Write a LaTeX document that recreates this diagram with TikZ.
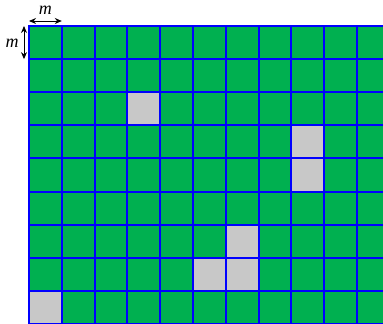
\documentclass[tikz,border=0pt]{standalone}
\usepackage{fontspec}
\setmainfont{Liberation Serif}
\usetikzlibrary{arrows.meta}
\definecolor{cellgreen}{HTML}{00B050}
\definecolor{cellgrey}{HTML}{C8C8C8}
\definecolor{gridblue}{HTML}{0000FF}
\tikzset{
  cellbox/.style={draw=gridblue, line width=2pt},
  dimarrow/.style={{Stealth[length=7pt,width=6pt]}-{Stealth[length=7pt,width=6pt]}, line width=1pt, black},
  dimlabel/.style={font=\fontsize{18}{18}\selectfont\itshape, inner sep=0pt}
}
\begin{document}
\begin{tikzpicture}[x=1pt,y=-1pt]
\useasboundingbox (0,0) rectangle (383,324);
\begin{scope}
\clip (0,0) rectangle (383,324);
\foreach \c in {0,...,10}{
  \foreach \r in {0,...,8}{
    \def\fillc{cellgreen}
    \ifnum\c=3 \ifnum\r=2 \def\fillc{cellgrey}\fi\fi
    \ifnum\c=8 \ifnum\r=3 \def\fillc{cellgrey}\fi\fi
    \ifnum\c=8 \ifnum\r=4 \def\fillc{cellgrey}\fi\fi
    \ifnum\c=6 \ifnum\r=6 \def\fillc{cellgrey}\fi\fi
    \ifnum\c=5 \ifnum\r=7 \def\fillc{cellgrey}\fi\fi
    \ifnum\c=6 \ifnum\r=7 \def\fillc{cellgrey}\fi\fi
    \ifnum\c=0 \ifnum\r=8 \def\fillc{cellgrey}\fi\fi
    \path[cellbox, fill=\fillc] ({29+32.8*\c},{26+33.1*\r}) rectangle ++(32.8,33.1);
  }
}
\end{scope}
\coordinate (hl) at (29,21);
\coordinate (hr) at (61.8,21);
\coordinate (vt) at (24,26);
\coordinate (vb) at (24,59.1);
\draw[dimarrow] (hl) -- (hr);
\draw[dimarrow] (vt) -- (vb);
\node[dimlabel] (mh) at (45.4,10) {m};
\node[dimlabel] (mv) at (12,43) {m};
\end{tikzpicture}
\end{document}
